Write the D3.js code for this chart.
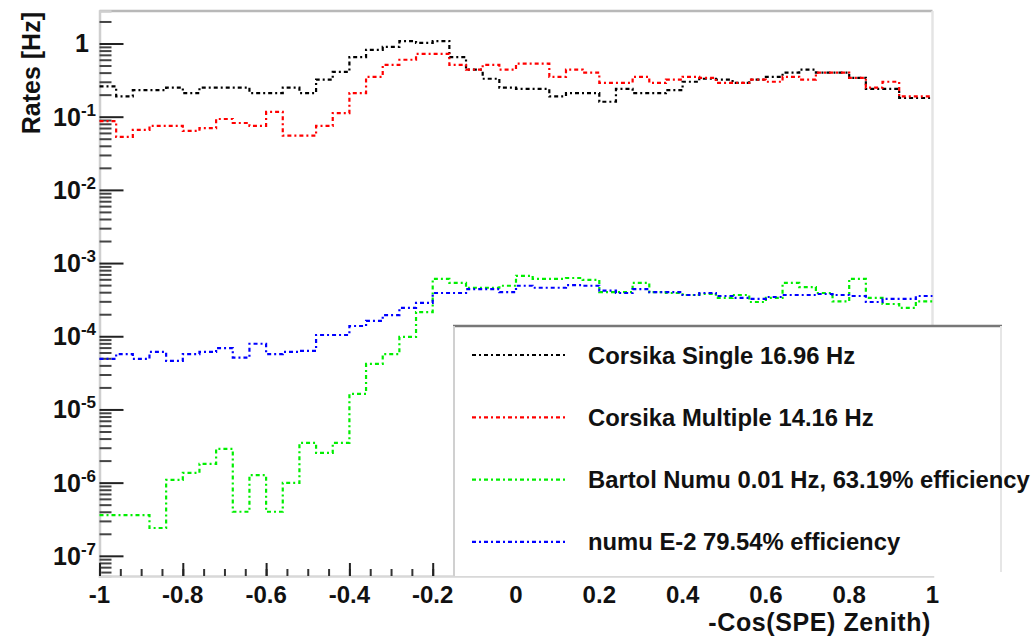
<!DOCTYPE html>
<html>
<head>
<meta charset="utf-8">
<script src="https://cdn.jsdelivr.net/npm/d3@7"></script>
<style>
body { margin: 0; background: #fff; }
svg { display: block; }
text { font-family: "Liberation Sans", Arial, sans-serif; fill: #111; }
</style>
</head>
<body>
<div id="chart"></div>
<script>
// 50 bins of -Cos(SPE) Zenith between -1 and 1
const xMin = -1, xMax = 1, nBins = 50;

const corsikaSingle = [0.26, 0.19, 0.23, 0.23, 0.25, 0.21, 0.25, 0.25, 0.25, 0.21,
	0.21, 0.25, 0.21, 0.32, 0.41, 0.65, 0.82, 0.90, 1.08, 1.02,
	1.08, 0.65, 0.44, 0.33, 0.25, 0.24, 0.24, 0.19, 0.21, 0.21,
	0.16, 0.24, 0.21, 0.21, 0.23, 0.30, 0.33, 0.32, 0.29, 0.32,
	0.35, 0.40, 0.44, 0.40, 0.40, 0.34, 0.24, 0.24, 0.18, 0.18];
const corsikaMultiple = [0.087, 0.053, 0.066, 0.075, 0.075, 0.064, 0.070, 0.093, 0.082, 0.075,
	0.116, 0.055, 0.055, 0.075, 0.112, 0.21, 0.35, 0.51, 0.60, 0.72,
	0.72, 0.51, 0.44, 0.51, 0.44, 0.53, 0.53, 0.35, 0.44, 0.40,
	0.29, 0.29, 0.35, 0.29, 0.32, 0.35, 0.34, 0.29, 0.29, 0.32,
	0.30, 0.35, 0.32, 0.40, 0.40, 0.34, 0.25, 0.30, 0.19, 0.19];
const bartolNumu = [3.6e-7, 3.6e-7, 3.6e-7, 2.4e-7, 1.09e-6, 1.36e-6, 1.8e-6, 2.9e-6, 4.0e-7, 1.27e-6,
	4.0e-7, 9.9e-7, 3.5e-6, 2.55e-6, 3.5e-6, 1.63e-5, 4.2e-5, 5.7e-5, 9.8e-5, 2.14e-4,
	6.1e-4, 5.35e-4, 4.6e-4, 4.6e-4, 4.9e-4, 6.7e-4, 6.1e-4, 6.1e-4, 6.25e-4, 5.9e-4,
	4.0e-4, 4.0e-4, 5.35e-4, 4.0e-4, 3.9e-4, 3.66e-4, 3.78e-4, 3.34e-4, 3.66e-4, 2.94e-4,
	3.34e-4, 5.35e-4, 4.7e-4, 3.9e-4, 3.0e-4, 6.1e-4, 3.34e-4, 2.76e-4, 2.44e-4, 3.0e-4];
const numuE2 = [4.9e-5, 5.7e-5, 4.9e-5, 6.1e-5, 4.6e-5, 5.7e-5, 6.1e-5, 6.9e-5, 5.1e-5, 7.9e-5,
	5.7e-5, 6.1e-5, 6.3e-5, 1.04e-4, 1.04e-4, 1.38e-4, 1.62e-4, 1.95e-4, 2.44e-4, 2.85e-4,
	3.9e-4, 3.9e-4, 4.4e-4, 4.4e-4, 4.0e-4, 4.9e-4, 4.6e-4, 4.6e-4, 5.0e-4, 4.9e-4,
	4.2e-4, 3.9e-4, 4.4e-4, 4.0e-4, 4.0e-4, 3.66e-4, 3.9e-4, 3.55e-4, 3.34e-4, 3.24e-4,
	3.44e-4, 3.66e-4, 3.66e-4, 3.78e-4, 3.66e-4, 3.55e-4, 2.94e-4, 3.24e-4, 3.24e-4, 3.55e-4];

const legendLabels = ['Corsika Single 16.96 Hz', 'Corsika Multiple 14.16 Hz',
	'Bartol Numu 0.01 Hz, 63.19% efficiency', 'numu E-2 79.54% efficiency'];
const xTickLabels = [-1, -0.8, -0.6, -0.4, -0.2, 0, 0.2, 0.4, 0.6, 0.8, 1];
const yDecades = [1, 1e-1, 1e-2, 1e-3, 1e-4, 1e-5, 1e-6, 1e-7];

const series = [
	{ values: corsikaSingle, color: '#000000' },
	{ values: corsikaMultiple, color: '#ff0000' },
	{ values: bartolNumu, color: '#00ee00' },
	{ values: numuE2, color: '#0000ff' }
];

const width = 1033, height = 637;
const frame = { left: 99.5, right: 932.5, top: 11, bottom: 576 };
const dash = '4,3,2,3';

const svg = d3.select('#chart').append('svg')
	.attr('width', width)
	.attr('height', height);

const x = d3.scaleLinear().domain([xMin, xMax]).range([frame.left, frame.right]);
const y = d3.scaleLog().domain([5.3e-8, 2.78]).range([frame.bottom, frame.top]);

// frame top / right
svg.append('line')
	.attr('x1', frame.left).attr('x2', frame.right)
	.attr('y1', frame.top).attr('y2', frame.top)
	.attr('stroke', '#b8b8b8').attr('stroke-width', 2.5);
svg.append('line')
	.attr('x1', frame.right).attr('x2', frame.right)
	.attr('y1', frame.top).attr('y2', frame.bottom)
	.attr('stroke', '#e4e4e4').attr('stroke-width', 2.5);

// y axis, major + minor ticks pointing into the frame
const yMinor = [];
[1, 1e-1, 1e-2, 1e-3, 1e-4, 1e-5, 1e-6, 1e-7, 1e-8].forEach(d => {
	for (let k = 2; k < 10; k++) {
		const v = d * k;
		if (v > 5.3e-8 && v < 2.78) yMinor.push(v);
	}
});
svg.append('g')
	.attr('transform', 'translate(' + frame.left + ',0)')
	.call(d3.axisLeft(y).tickValues(yMinor).tickSize(-12).tickFormat(''))
	.call(g => g.select('.domain').attr('stroke', '#cfcfcf').attr('stroke-width', 2.5))
	.call(g => g.selectAll('.tick line').attr('stroke', '#444').attr('stroke-width', 2));
svg.append('g')
	.attr('transform', 'translate(' + frame.left + ',0)')
	.call(d3.axisLeft(y).tickValues(yDecades).tickSize(-24).tickFormat(''))
	.call(g => g.select('.domain').remove())
	.call(g => g.selectAll('.tick line').attr('stroke', '#222').attr('stroke-width', 2));

const yLab = svg.append('g');
yDecades.forEach(d => {
	const t = yLab.append('text')
		.attr('x', 96)
		.attr('y', y(d) + 9)
		.attr('text-anchor', 'end')
		.style('font-size', '25px')
		.style('font-weight', 'bold');
	if (d === 1) {
		t.attr('x', 89).text('1');
	} else {
		t.append('tspan').text('10');
		t.append('tspan')
			.attr('dy', -10)
			.style('font-size', '17px')
			.text(String(Math.round(Math.log10(d))));
	}
});

// x axis
svg.append('g')
	.attr('transform', 'translate(0,' + frame.bottom + ')')
	.call(d3.axisBottom(x).tickValues(d3.range(-1, 1.0001, 0.05)).tickSize(-7).tickFormat(''))
	.call(g => g.select('.domain').attr('stroke', '#d8d8d8').attr('stroke-width', 2.5))
	.call(g => g.selectAll('.tick line').attr('stroke', '#333').attr('stroke-width', 2));
svg.append('g')
	.attr('transform', 'translate(0,' + frame.bottom + ')')
	.call(d3.axisBottom(x).tickValues(xTickLabels).tickSize(-13).tickFormat(''))
	.call(g => g.select('.domain').remove())
	.call(g => g.selectAll('.tick line').attr('stroke', '#222').attr('stroke-width', 2));
svg.append('g').selectAll('text')
	.data(xTickLabels)
	.enter()
	.append('text')
	.attr('x', d => x(d))
	.attr('y', frame.bottom + 27)
	.attr('text-anchor', 'middle')
	.style('font-size', '24px')
	.style('font-weight', 'bold')
	.text(d => String(+d.toFixed(1)));

// axis titles
svg.append('text')
	.attr('transform', 'translate(40,12) rotate(-90)')
	.attr('text-anchor', 'end')
	.style('font-size', '25px')
	.style('font-weight', 'bold')
	.text('Rates [Hz]');
svg.append('text')
	.attr('x', 931)
	.attr('y', 630.5)
	.attr('text-anchor', 'end')
	.style('font-size', '25px')
	.style('font-weight', 'bold')
	.style('letter-spacing', '0.6px')
	.text('-Cos(SPE) Zenith)');

// histograms
const step = d3.line()
	.x(d => x(d[0]))
	.y(d => y(d[1]))
	.curve(d3.curveStepAfter);
const binW = (xMax - xMin) / nBins;
function binPoints(vals) {
	const p = vals.map((v, i) => [xMin + i * binW, v]);
	p.push([xMax, vals[vals.length - 1]]);
	return p;
}
svg.append('g').selectAll('path')
	.data(series)
	.enter()
	.append('path')
	.attr('d', d => step(binPoints(d.values)))
	.attr('fill', 'none')
	.attr('stroke', d => d.color)
	.attr('stroke-width', 2.2)
	.attr('stroke-dasharray', dash);

// legend
const lg = svg.append('g');
lg.append('rect')
	.attr('x', 453).attr('y', 326)
	.attr('width', 548).attr('height', 250)
	.attr('fill', '#fff');
lg.append('line')
	.attr('x1', 453).attr('x2', 1002).attr('y1', 326).attr('y2', 326)
	.attr('stroke', '#777').attr('stroke-width', 2.5);
lg.append('line')
	.attr('x1', 454).attr('x2', 454).attr('y1', 326).attr('y2', 576)
	.attr('stroke', '#d0d0d0').attr('stroke-width', 2);
lg.append('line')
	.attr('x1', 1001).attr('x2', 1001).attr('y1', 326).attr('y2', 572)
	.attr('stroke', '#e6e6e6').attr('stroke-width', 2);
series.forEach((s, i) => {
	const yy = 355 + i * 62.3;
	lg.append('line')
		.attr('x1', 472).attr('x2', 567)
		.attr('y1', yy).attr('y2', yy)
		.attr('stroke', s.color)
		.attr('stroke-width', 2.2)
		.attr('stroke-dasharray', dash);
	lg.append('text')
		.attr('x', 588)
		.attr('y', yy + 8.5)
		.style('font-size', '23.8px')
		.style('font-weight', 'bold')
		.text(legendLabels[i]);
});
</script>
</body>
</html>
